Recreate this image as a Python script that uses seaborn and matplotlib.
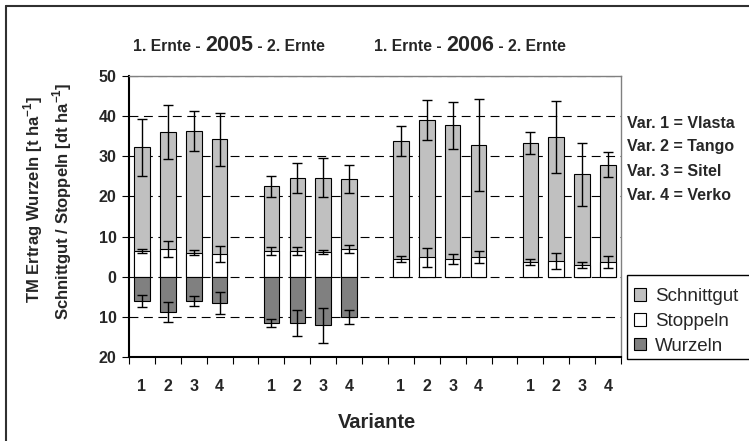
import numpy as np
import pandas as pd
import matplotlib
matplotlib.use('Agg')
import matplotlib.pyplot as plt
import matplotlib.ticker as mtick
from matplotlib.patches import Patch, Rectangle
from matplotlib.lines import Line2D
import seaborn as sns

# ------------------------------------------------------------
# data
# ------------------------------------------------------------
ernten = ['2005 1. Ernte', '2005 2. Ernte', '2006 1. Ernte', '2006 2. Ernte']
varianten = ['1', '2', '3', '4']
sorten = ['Vlasta', 'Tango', 'Sitel', 'Verko']

schnittgut     = [25.7, 29.2, 30.3, 28.6, 16.0, 18.1, 18.5, 17.4,
                  29.5, 34.3, 33.3, 27.9, 29.6, 30.9, 22.6, 24.2]
schnittgut_err = [7.2, 6.8, 5.1, 6.7, 2.55, 3.65, 4.85, 3.55,
                  3.75, 5.0, 5.85, 11.45, 2.75, 8.85, 7.8, 3.05]
stoppeln       = [6.5, 6.9, 6.0, 5.6, 6.5, 6.5, 6.1, 6.9,
                  4.4, 4.8, 4.4, 4.8, 3.7, 3.9, 2.9, 3.7]
stoppeln_err   = [0.5, 1.9, 0.7, 2.0, 1.0, 1.0, 0.5, 1.0,
                  0.7, 2.3, 1.35, 1.5, 0.7, 2.05, 0.8, 1.55]
# Wurzeln nur 2005 gemessen
wurzeln        = [6.0, 8.8, 6.0, 6.6, 11.5, 11.5, 12.1, 10.0,
                  np.nan, np.nan, np.nan, np.nan, np.nan, np.nan, np.nan, np.nan]
wurzeln_err    = [1.5, 2.5, 1.3, 2.7, 1.05, 3.2, 4.4, 1.75,
                  np.nan, np.nan, np.nan, np.nan, np.nan, np.nan, np.nan, np.nan]

# slot positions: 4 bars per harvest, one empty slot between harvests
pos = [g * 5 + v for g in range(len(ernten)) for v in range(len(varianten))]

df = pd.DataFrame({
    'pos': pos,
    'Schnittgut': schnittgut,
    'Stoppeln': stoppeln,
    'Wurzeln': wurzeln,
    'Wurzeln_err': wurzeln_err,
})
df['Gesamt'] = df['Schnittgut'] + df['Stoppeln']
df['Wurzeln_neg'] = -df['Wurzeln']

# ------------------------------------------------------------
# style
# ------------------------------------------------------------
sns.set_style('white')
plt.rcParams['font.family'] = ['Liberation Sans', 'DejaVu Sans']
plt.rcParams['mathtext.fontset'] = 'custom'
plt.rcParams['mathtext.rm'] = 'Liberation Sans:bold'
plt.rcParams['mathtext.bf'] = 'Liberation Sans:bold'

W, H = 749, 441
fig = plt.figure(figsize=(W / 100, H / 100), dpi=100)
ax = fig.add_axes([129 / W, 1 - 357 / H, (621 - 129) / W, (357 - 76) / H])

c_schnitt = '#C0C0C0'
c_stopp = '#FFFFFF'
c_wurz = '#808080'
bar_kw = dict(native_scale=True, width=0.6, errorbar=None, saturation=1,
              edgecolor='black', linewidth=0.8, ax=ax, zorder=2)

# grid lines behind bars
for yv in range(-10, 51, 10):
    ax.axhline(yv, color='black', lw=0.8, ls=(0, (8, 5)), zorder=1)

# Schnittgut sits on top of Stoppeln: draw the total first, Stoppeln over it
sns.barplot(data=df, x='pos', y='Gesamt', color=c_schnitt, **bar_kw)
sns.barplot(data=df, x='pos', y='Stoppeln', color=c_stopp, **bar_kw)
d05 = df.dropna()
sns.barplot(data=d05, x='pos', y='Wurzeln_neg', color=c_wurz, **bar_kw)

err_kw = dict(fmt='none', ecolor='black', elinewidth=1.0, capsize=3.5, capthick=1.0, zorder=3)
ax.errorbar(df['pos'], df['Gesamt'], yerr=schnittgut_err, **err_kw)
ax.errorbar(df['pos'], df['Stoppeln'], yerr=stoppeln_err, **err_kw)
ax.errorbar(d05['pos'], d05['Wurzeln_neg'], yerr=d05['Wurzeln_err'], **err_kw)

# axes
ax.set_xlim(-0.5, 18.5)
ax.set_ylim(-20, 50)
ax.set_yticks(range(-20, 51, 10))
ax.yaxis.set_major_formatter(mtick.FuncFormatter(lambda v, _: f'{abs(v):.0f}'))
ax.set_xticks(np.arange(-0.5, 18.6, 1.0))
ax.set_xticklabels([])
ax.set_xticks(pos, minor=True)
ax.set_xticklabels(varianten * len(ernten), minor=True)
ax.tick_params(axis='x', which='major', direction='out', length=5, width=0.8, color='black', bottom=True)
ax.tick_params(axis='x', which='minor', length=0, pad=16, labelsize=11.5)
ax.tick_params(axis='y', direction='out', length=5, width=0.8, color='black', left=True, labelsize=11.5, pad=4)
for lab in ax.get_xticklabels(minor=True) + ax.get_yticklabels():
    lab.set_fontweight('bold')
ax.set_xlabel('')
ax.set_ylabel('')
ax.grid(False)

for side in ['left', 'bottom']:
    ax.spines[side].set_color('black')
    ax.spines[side].set_linewidth(1.5)
for side in ['top', 'right']:
    ax.spines[side].set_color('#808080')
    ax.spines[side].set_linewidth(1.0)

fig.text(377 / W, 1 - 423 / H, 'Variante', ha='center', va='center', fontsize=14.5, fontweight='bold')

fig.text(33 / W, 1 - 199 / H, 'TM Ertrag Wurzeln [t ha$^{-1}$]', rotation=90,
         ha='center', va='center', fontsize=12, fontweight='bold')
fig.text(62 / W, 1 - 201 / H, 'Schnittgut / Stoppeln [dt ha$^{-1}$]', rotation=90,
         ha='center', va='center', fontsize=12, fontweight='bold')

# titles with large year in the middle
renderer = fig.canvas.get_renderer()


def title_parts(x0, parts):
    x = x0 / W
    for s, size in parts:
        t = fig.text(x, 1 - 51 / H, s, ha='left', va='baseline', fontsize=size, fontweight='bold')
        bb = t.get_window_extent(renderer=renderer)
        x = bb.x1 / fig.bbox.width


title_parts(133, [('1. Ernte - ', 11.3), ('2005', 15.5), (' - 2. Ernte', 11.3)])
title_parts(374, [('1. Ernte - ', 11.3), ('2006', 15.5), (' - 2. Ernte', 11.3)])

# variety key
for i, (v, s) in enumerate(zip(varianten, sorten)):
    fig.text(627 / W, 1 - (123 + 24 * i) / H, f'Var. {v} = {s}', ha='left', va='center',
             fontsize=11.5, fontweight='bold')

# legend with a frame running off the right edge
fig.add_artist(Rectangle((627 / W, 1 - 359 / H), 140 / W, 84 / H, transform=fig.transFigure,
                         facecolor='white', edgecolor='black', lw=1.0))
handles = [Patch(facecolor=c, edgecolor='black', lw=0.8) for c in (c_schnitt, c_stopp, c_wurz)]
fig.legend(handles, ['Schnittgut', 'Stoppeln', 'Wurzeln'], loc='upper left',
           bbox_to_anchor=(634 / W, 1 - 288 / H), frameon=False, fontsize=13.5,
           handlelength=0.65, handleheight=0.65, handletextpad=0.45, labelspacing=0.42,
           borderpad=0, borderaxespad=0)

# outer frame (left and top edge visible)
fig.add_artist(Line2D([5.5 / W, 5.5 / W], [0, 1 - 6 / H], transform=fig.transFigure, color='#303030', lw=1.5))
fig.add_artist(Line2D([5.5 / W, 1], [1 - 6 / H, 1 - 6 / H], transform=fig.transFigure, color='#303030', lw=1.5))

plt.savefig('out.png', dpi=100)
